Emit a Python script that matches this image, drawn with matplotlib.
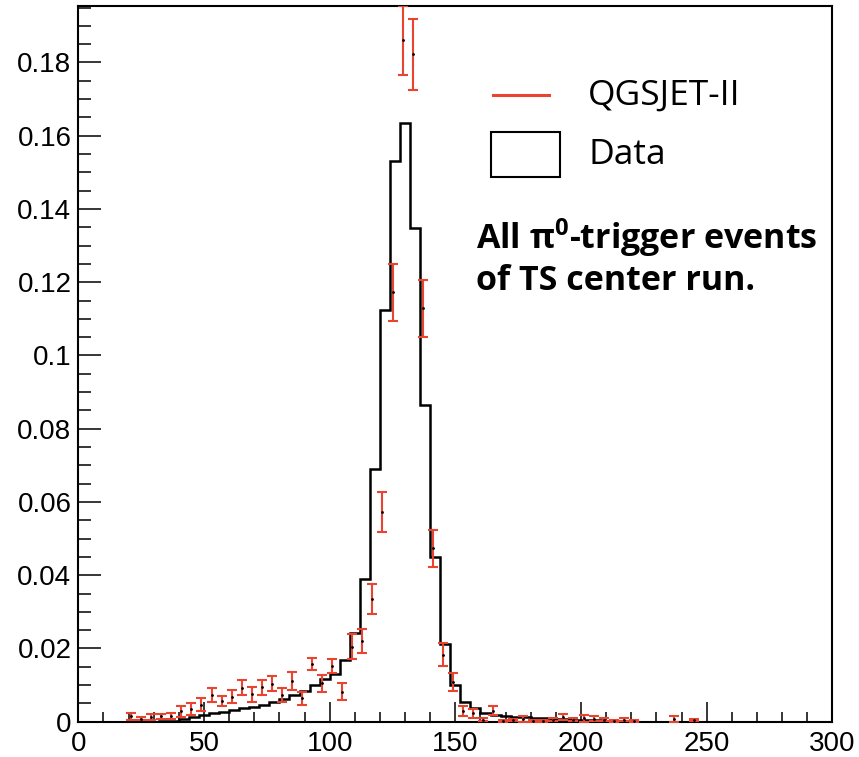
import numpy as np
import matplotlib
matplotlib.use("Agg")
import matplotlib.pyplot as plt
from matplotlib.ticker import MultipleLocator, FuncFormatter
from matplotlib.lines import Line2D
from matplotlib.patches import Rectangle

# Data (black histogram): 4-unit bins starting at 32
bin_width = 4
data_start = 32
data_vals = [0.0001, 0.0003, 0.0007, 0.0012, 0.0018, 0.0023, 0.0026, 0.0032,
             0.0037, 0.0041, 0.0047, 0.0055, 0.0062, 0.0073, 0.0085, 0.0100,
             0.0116, 0.0130, 0.0168, 0.0242, 0.0390, 0.0690, 0.1123, 0.1530,
             0.1634, 0.1347, 0.0864, 0.0450, 0.0213, 0.0099, 0.0055, 0.0037,
             0.0023, 0.0018, 0.0015, 0.0012, 0.0012, 0.0009, 0.0009, 0.0007,
             0.0007, 0.0006, 0.0006, 0.0004, 0.0003, 0.0002, 0.0001]

# QGSJET-II (red error bars)
mc_x = [21, 25, 29, 33, 37, 41, 45, 49, 53, 57, 61, 65, 69, 73, 77, 81, 85,
        89, 93, 97, 101, 105, 109, 113, 117, 121, 125, 129, 133, 137, 141,
        145, 149, 153, 157, 161, 165, 169, 173, 177, 181, 185, 189, 193, 197,
        201, 205, 209, 213, 217, 221, 237, 245]
mc_y = [0.0015, 0.0008, 0.0012, 0.0015, 0.0015, 0.0028, 0.0035, 0.0046,
        0.0073, 0.0056, 0.0068, 0.0093, 0.0075, 0.0094, 0.0104, 0.0074,
        0.0111, 0.0064, 0.0158, 0.0105, 0.0152, 0.0082, 0.0205, 0.0220,
        0.0335, 0.0572, 0.1172, 0.1860, 0.1822, 0.1129, 0.0473, 0.0183,
        0.0108, 0.0030, 0.0023, 0.0006, 0.0030, 0.0002, 0.0004, 0.0007,
        0.0003, 0.0002, 0.0005, 0.0014, 0.0005, 0.0009, 0.0008, 0.0005,
        0.0003, 0.0005, 0.0002, 0.0008, 0.0004]
mc_err = [0.0010, 0.0004, 0.0008, 0.0007, 0.0008, 0.0014, 0.0016, 0.0018,
          0.0018, 0.0014, 0.0018, 0.0021, 0.0020, 0.0020, 0.0021, 0.0019,
          0.0024, 0.0018, 0.0016, 0.0023, 0.0020, 0.0023, 0.0034, 0.0033,
          0.0041, 0.0055, 0.0077, 0.0095, 0.0098, 0.0078, 0.0050, 0.0031,
          0.0025, 0.0014, 0.0013, 0.0005, 0.0012, 0.0002, 0.0003, 0.0009,
          0.0003, 0.0002, 0.0004, 0.0008, 0.0004, 0.0009, 0.0007, 0.0004,
          0.0003, 0.0004, 0.0002, 0.0008, 0.0003]

red = "#e8442f"
txt_font = ["Open Sans", "DejaVu Sans"]

fig = plt.figure(figsize=(8.59, 7.57), dpi=100)
ax = fig.add_axes([0.0912, 0.0466, 0.8778, 0.9454])

edges = data_start + bin_width * np.arange(len(data_vals) + 1)
ax.stairs(data_vals, edges, color="black", lw=1.8, baseline=0, zorder=3)

ax.errorbar(mc_x, mc_y, yerr=mc_err, fmt="none", ecolor=red, elinewidth=1.5,
            capsize=3.5, capthick=1.5, zorder=4)
ax.plot(mc_x, mc_y, ".", color="black", ms=2, zorder=5)

ax.set_xlim(0, 300)
ax.set_ylim(0, 0.1954)

ax.xaxis.set_major_locator(MultipleLocator(50))
ax.xaxis.set_minor_locator(MultipleLocator(10))
ax.yaxis.set_major_locator(MultipleLocator(0.02))
ax.yaxis.set_minor_locator(MultipleLocator(0.005))
ax.yaxis.set_major_formatter(FuncFormatter(lambda v, p: "%g" % round(v, 3)))

ax.tick_params(axis="both", which="both", direction="in", top=False, right=False,
               labelsize=20, width=1.1)
ax.tick_params(axis="y", which="major", length=16.5, pad=5)
ax.tick_params(axis="y", which="minor", length=9.4)
ax.tick_params(axis="x", which="major", length=14.4, pad=7)
ax.tick_params(axis="x", which="minor", length=7.2)
for lab in ax.get_xticklabels() + ax.get_yticklabels():
    lab.set_family("Liberation Sans")
for s in ax.spines.values():
    s.set_linewidth(1.5)

# Legend drawn by hand
ax.add_line(Line2D([0.5496, 0.6247], [0.8757, 0.8757], transform=ax.transAxes,
                   color=red, lw=2.2))
ax.add_patch(Rectangle((0.5474, 0.7615), 0.0915, 0.0628, transform=ax.transAxes,
                       fill=False, ec="black", lw=1.5))
ax.text(0.676, 0.8617, "QGSJET-II", transform=ax.transAxes, fontsize=25.5,
        family=txt_font, va="baseline")
ax.text(0.676, 0.7792, "Data", transform=ax.transAxes, fontsize=25.5,
        family=txt_font, va="baseline")

ax.text(0.5274, 0.6615, "All π$^{\\mathregular{0}}$-trigger events",
        transform=ax.transAxes, fontsize=24.5, fontweight="bold",
        family=txt_font, va="baseline")
ax.text(0.5274, 0.6032, "of TS center run.", transform=ax.transAxes,
        fontsize=24.5, fontweight="bold", family=txt_font, va="baseline")

fig.savefig("out.png", dpi=100)
